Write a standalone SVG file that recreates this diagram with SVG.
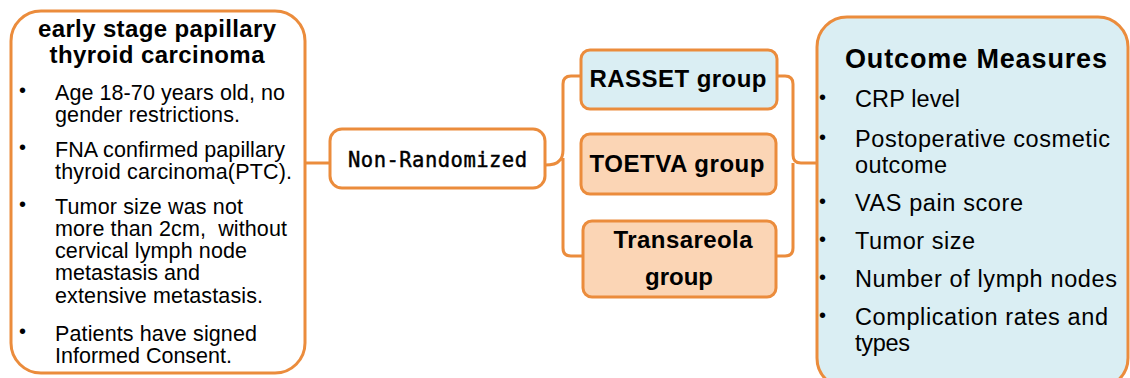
<svg xmlns="http://www.w3.org/2000/svg" width="1130" height="378" viewBox="0 0 1130 378">
<style>
.box{stroke:#EB8C3C;stroke-width:3;}
.conn{fill:none;stroke:#EB8C3C;stroke-width:3;stroke-linejoin:round;}
.t{font-family:"Liberation Sans",Arial,sans-serif;fill:#000;}
.b{font-weight:bold;}
.lb{font-size:21.5px;}
.rb{font-size:23.5px;}
.bul{font-size:20px;}
.g{font-size:24px;font-weight:bold;text-anchor:middle;}
</style>
<rect width="1130" height="378" fill="#fff"/>
<g id="connectors">
<line class="conn" x1="305" y1="163" x2="330" y2="163"/>
<path class="conn" d="M545,165 Q556,165 559,161 Q563,158 563,150 L563,84 Q563,76 571,76 L581,76 M563,158 L563,248 Q563,256 571,256 L583,256"/>
<path class="conn" d="M776,76 L785,76 Q793,76 793,84 L793,155 Q793,163 801,163 L816,163 M793,163 Q793,171 793,171 L793,248 Q793,256 785,256 L776,256"/>
</g>
<g id="n-criteria">
<rect class="box" x="11" y="11" width="294" height="362" rx="30" fill="#fff"/>
<text class="t b" font-size="24" text-anchor="middle" x="157" y="37" textLength="238">early stage papillary</text>
<text class="t b" font-size="24" text-anchor="middle" x="157" y="63" textLength="215">thyroid carcinoma</text>
<g class="t lb">
<text class="bul" x="19" y="97">•</text><text x="55" y="100" textLength="230">Age 18-70 years old, no</text>
<text x="55" y="122" textLength="185">gender restrictions.</text>
<text class="bul" x="19" y="154">•</text><text x="55" y="157" textLength="230">FNA confirmed papillary</text>
<text x="55" y="179" textLength="237">thyroid carcinoma(PTC).</text>
<text class="bul" x="19" y="211">•</text><text x="55" y="214" textLength="188">Tumor size was not</text>
<text x="55" y="236" xml:space="preserve" textLength="232">more than 2cm,  without</text>
<text x="55" y="258" textLength="192">cervical lymph node</text>
<text x="55" y="280" textLength="145">metastasis and</text>
<text x="55" y="303" textLength="208">extensive metastasis.</text>
<text class="bul" x="19" y="338">•</text><text x="55" y="341" textLength="202">Patients have signed</text>
<text x="55" y="363" textLength="177">Informed Consent.</text>
</g>
</g>
<g id="n-nonrandom">
<rect class="box" x="330" y="129" width="215" height="59" rx="12" fill="#fff"/>
<text x="348" y="167" font-family="'DejaVu Sans Mono','Liberation Mono',monospace" font-size="20.5" stroke="#000" stroke-width="0.45" textLength="179">Non-Randomized</text>
</g>
<g id="n-rasset">
<rect class="box" x="581" y="50" width="196" height="59" rx="9" fill="#DAEEF3"/>
<text class="t g" x="678" y="87" textLength="177">RASSET group</text>
</g>
<g id="n-toetva">
<rect class="box" x="581" y="134" width="195" height="60" rx="9" fill="#FBD5B5"/>
<text class="t g" x="677" y="172" textLength="175">TOETVA group</text>
</g>
<g id="n-transareola">
<rect class="box" x="583" y="221" width="193" height="76" rx="9" fill="#FBD5B5"/>
<text class="t g" x="683" y="248" textLength="139">Transareola</text>
<text class="t g" x="679" y="285">group</text>
</g>
<g id="n-outcome">
<rect class="box" x="817" y="17" width="311" height="371" rx="30" fill="#DAEEF3"/>
<text class="t b" font-size="27" x="845" y="68" textLength="262">Outcome Measures</text>
<g class="t rb">
<text class="bul" x="819" y="104">•</text><text x="855" y="107" textLength="105">CRP level</text>
<text class="bul" x="819" y="144">•</text><text x="855" y="147" textLength="255">Postoperative cosmetic</text>
<text x="855" y="173" textLength="92">outcome</text>
<text class="bul" x="819" y="208">•</text><text x="855" y="211" textLength="168">VAS pain score</text>
<text class="bul" x="819" y="246">•</text><text x="855" y="249" textLength="120">Tumor size</text>
<text class="bul" x="819" y="284">•</text><text x="855" y="287" textLength="262">Number of lymph nodes</text>
<text class="bul" x="819" y="322">•</text><text x="855" y="325" textLength="253">Complication rates and</text>
<text x="855" y="351" textLength="55">types</text>
</g>
</g>
</svg>
